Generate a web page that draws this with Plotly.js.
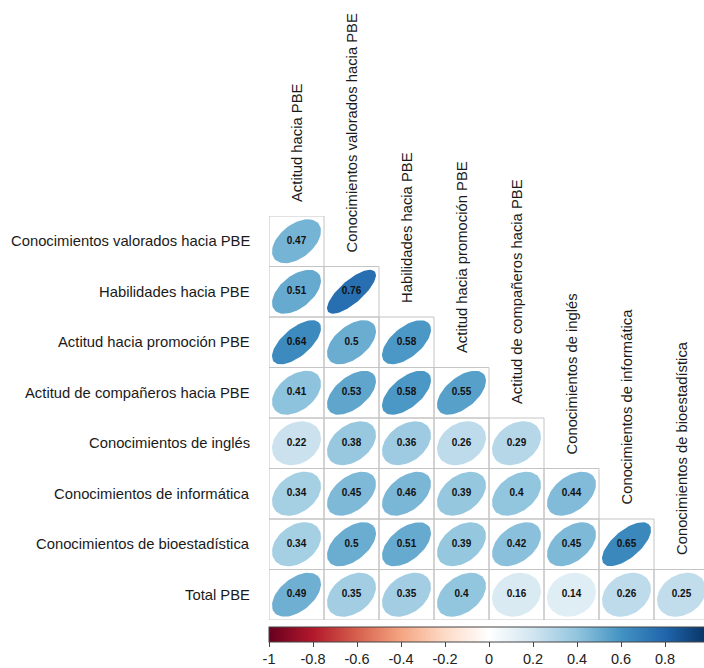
<!DOCTYPE html>
<html><head><meta charset="utf-8">
<script src="https://cdn.plot.ly/plotly-3.0.1.min.js"></script>
<style>html,body{margin:0;padding:0;background:#fff}</style>
</head><body><div id="chart" style="width:704px;height:668px"></div>
<script>
const rowLabels = ["Conocimientos valorados hacia PBE","Habilidades hacia PBE","Actitud hacia promoción PBE","Actitud de compañeros hacia PBE","Conocimientos de inglés","Conocimientos de informática","Conocimientos de bioestadística","Total PBE"];
const colLabels = ["Actitud hacia PBE","Conocimientos valorados hacia PBE","Habilidades hacia PBE","Actitud hacia promoción PBE","Actitud de compañeros hacia PBE","Conocimientos de inglés","Conocimientos de informática","Conocimientos de bioestadística"];
const corrValues = [
  [0.47],
  [0.51, 0.76],
  [0.64, 0.5, 0.58],
  [0.41, 0.53, 0.58, 0.55],
  [0.22, 0.38, 0.36, 0.26, 0.29],
  [0.34, 0.45, 0.46, 0.39, 0.4, 0.44],
  [0.34, 0.5, 0.51, 0.39, 0.42, 0.45, 0.65],
  [0.49, 0.35, 0.35, 0.4, 0.16, 0.14, 0.26, 0.25]
];
const colorbarTickVals = [-1, -0.8, -0.6, -0.4, -0.2, 0, 0.2, 0.4, 0.6, 0.8];
const colorbarTickText = ["-1", "-0.8", "-0.6", "-0.4", "-0.2", "0", "0.2", "0.4", "0.6", "0.8"];
const paletteColors = ["#67001F","#B2182B","#D6604D","#F4A582","#FDDBC7","#FFFFFF","#D1E5F0","#92C5DE","#4393C3","#2166AC","#053061"];

const colorscale = paletteColors.map((c, i) => [i / (paletteColors.length - 1), c]);
function hexToRgb(h) { return [parseInt(h.slice(1,3),16), parseInt(h.slice(3,5),16), parseInt(h.slice(5,7),16)]; }
function colorFor(v) {
  const t = (v + 1) / 2;
  const n = paletteColors.length - 1;
  let i = Math.min(Math.floor(t * n), n - 1);
  const f = t * n - i;
  const a = hexToRgb(paletteColors[i]), b = hexToRgb(paletteColors[i + 1]);
  const c = a.map((x, k) => Math.round(x + (b[k] - x) * f));
  return 'rgb(' + c.join(',') + ')';
}

const FONT = 'Arial, "Liberation Sans", sans-serif';
const traces = [];
const shapes = [];
const annotations = [];
const textX = [], textY = [], textS = [], allVals = [];

corrValues.forEach((row, r) => {
  row.forEach((v, c) => {
    const cx = c + 0.5, cy = r + 0.5;
    const d = Math.acos(v);
    const xs = [], ys = [];
    for (let k = 0; k <= 72; k++) {
      const t = k / 72 * 2 * Math.PI;
      xs.push(cx + 0.445 * Math.cos(t + d / 2));
      ys.push(cy - 0.435 * Math.cos(t - d / 2));
    }
    traces.push({type: 'scatter', mode: 'lines', x: xs, y: ys, fill: 'toself',
      fillcolor: colorFor(v), line: {width: 0, color: colorFor(v)}, hoverinfo: 'skip', showlegend: false});
    shapes.push({type: 'rect', xref: 'x', yref: 'y', x0: c, x1: c + 1, y0: r, y1: r + 1,
      line: {color: '#c4c4c4', width: 1}, layer: 'below'});
    textX.push(cx); textY.push(cy); textS.push(String(v)); allVals.push(v);
  });
});

traces.push({type: 'scatter', mode: 'text', x: textX, y: textY, text: textS,
  textfont: {family: FONT, size: 10, color: '#111', weight: 'bold'}, hoverinfo: 'skip', showlegend: false});

traces.push({type: 'scatter', mode: 'markers', x: textX, y: textY, hoverinfo: 'skip', showlegend: false,
  marker: {color: allVals, colorscale: colorscale, cmin: -1, cmax: 1, opacity: 0, size: 1, showscale: true,
    colorbar: {orientation: 'h', thickness: 15, thicknessmode: 'pixels', len: 440, lenmode: 'pixels',
      x: 0, xanchor: 'left', xref: 'paper', y: -7 / 404, yanchor: 'top', yref: 'paper',
      xpad: 0, ypad: 0, outlinewidth: 1, outlinecolor: '#444', ticks: 'outside', ticklen: 5, tickcolor: '#444',
      tickvals: colorbarTickVals, ticktext: colorbarTickText, tickfont: {family: FONT, size: 14.5, color: '#222'}}}});

rowLabels.forEach((lab, r) => {
  annotations.push({xref: 'x', yref: 'y', x: 0, y: r + 0.5, text: lab, showarrow: false,
    xanchor: 'right', yanchor: 'middle', xshift: -17, font: {family: FONT, size: 14.8, color: '#1a1a1a'}});
});
colLabels.forEach((lab, c) => {
  annotations.push({xref: 'x', yref: 'y', x: c + 0.5, y: c, text: lab, showarrow: false, textangle: -90,
    xanchor: 'center', yanchor: 'bottom', yshift: 12, font: {family: FONT, size: 14.8, color: '#1a1a1a'}});
});

const layout = {
  width: 704, height: 668,
  margin: {l: 269, r: 0, t: 216, b: 48, pad: 0},
  paper_bgcolor: '#fff', plot_bgcolor: '#fff',
  xaxis: {range: [0, 435 / 55], showgrid: false, zeroline: false, showticklabels: false, ticks: '', fixedrange: true},
  yaxis: {range: [8, 0], showgrid: false, zeroline: false, showticklabels: false, ticks: '', fixedrange: true},
  shapes: shapes, annotations: annotations, showlegend: false
};
Plotly.newPlot('chart', traces, layout, {displayModeBar: false, staticPlot: true});
</script></body></html>
